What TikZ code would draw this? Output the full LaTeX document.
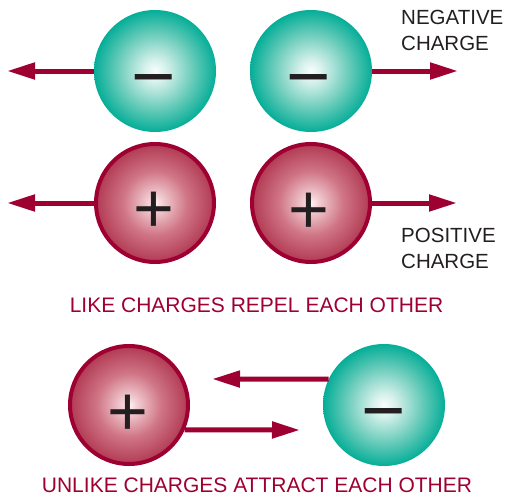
\documentclass[tikz,border=0pt]{standalone}
\usepackage{fontspec}
\setmainfont{Liberation Sans}
\usetikzlibrary{arrows.meta}
\definecolor{crim}{RGB}{158,0,50}
\definecolor{tealE}{RGB}{0,172,150}
\definecolor{tealD}{RGB}{0,164,143}
\definecolor{tealM}{RGB}{110,205,188}
\definecolor{tealL}{RGB}{215,241,236}
\definecolor{tealC}{RGB}{248,253,252}
\definecolor{redE}{RGB}{162,28,58}
\definecolor{redD}{RGB}{168,40,68}
\definecolor{redM}{RGB}{208,118,134}
\definecolor{redL}{RGB}{242,206,211}
\definecolor{redC}{RGB}{253,244,245}
\definecolor{ink}{RGB}{35,31,32}
% TikZ fits the 50bp circle of a radial shading round the path's bounding box,
% so the circle's edge lies at about 35.4bp
\pgfdeclareradialshading{greenball}{\pgfpoint{0bp}{0bp}}{color(0bp)=(tealC); color(4.5bp)=(tealL); color(15bp)=(tealM); color(25.5bp)=(tealE); color(32.5bp)=(tealE); color(35.4bp)=(tealD); color(50bp)=(tealD)}
\pgfdeclareradialshading{redball}{\pgfpoint{0bp}{0bp}}{color(0bp)=(redC); color(3.2bp)=(redL); color(13.5bp)=(redM); color(28.5bp)=(redD); color(35.4bp)=(redE); color(50bp)=(redE)}
\tikzset{
  gball/.style={circle, inner sep=0pt, outer sep=0pt, minimum size=122pt, shade, shading=greenball},
  rball/.style={circle, inner sep=0pt, minimum size=118pt, draw=crim, line width=4pt, shade, shading=redball},
  arr/.style={draw=crim, line width=5pt, -{Triangle[length=28pt,width=16pt]}},
  plussign/.style={anchor=base, inner sep=0pt, text=ink, font=\fontsize{70}{70}\selectfont},
  minussign/.style={anchor=base, inner sep=0pt, text=ink, font=\fontsize{76}{76}\selectfont},
  lbl/.style={anchor=base west, inner sep=0pt, text=ink, font=\fontsize{20.5}{24}\selectfont},
  caption/.style={anchor=base, inner sep=0pt, text=crim, font=\fontsize{21}{25}\selectfont}
}
\begin{document}
\begin{tikzpicture}[x=1pt,y=-1pt]
\useasboundingbox (0,0) rectangle (506,498);
% balls
\node[gball] (g1) at (155,71) {};
\node[gball] (g2) at (311,71) {};
\node[rball] (r1) at (155,203) {};
\node[rball] (r2) at (311,203) {};
\node[rball] (r3) at (129,405) {};
\node[gball] (g3) at (384,405) {};
% arrow tips
\coordinate (t1) at (7,71);
\coordinate (t2) at (458,71);
\coordinate (t3) at (7,203);
\coordinate (t4) at (457,203);
\coordinate (t5) at (212,379);
\coordinate (t6) at (300,430);
\draw[arr] (g1) -- (t1);
\draw[arr] (g2) -- (t2);
\draw[arr] (r1) -- (t3);
\draw[arr] (r2) -- (t4);
\draw[arr] (g3.155) -- (t5);
\draw[arr] (r3.-24) -- (t6);
% signs
\node[minussign] (m1) at (154,102.8) {−};
\node[minussign] (m2) at (309,102.8) {−};
\node[plussign] (p1) at (153.5,232.2) {+};
\node[plussign] (p2) at (309,233) {+};
\node[plussign] (p3) at (127.5,435.7) {+};
\node[minussign] (m3) at (383.7,436.1) {−};
% labels
\node[lbl] (neg1) at (401,24) {NEGATIVE};
\node[lbl] (neg2) at (401,50) {CHARGE};
\node[lbl] (pos1) at (401,242.7) {POSITIVE};
\node[lbl] (pos2) at (401,268.3) {CHARGE};
\node[caption] (like) at (256.5,312) {LIKE CHARGES REPEL EACH OTHER};
\node[caption] (unlike) at (257,492) {UNLIKE CHARGES ATTRACT EACH OTHER};
\end{tikzpicture}
\end{document}
